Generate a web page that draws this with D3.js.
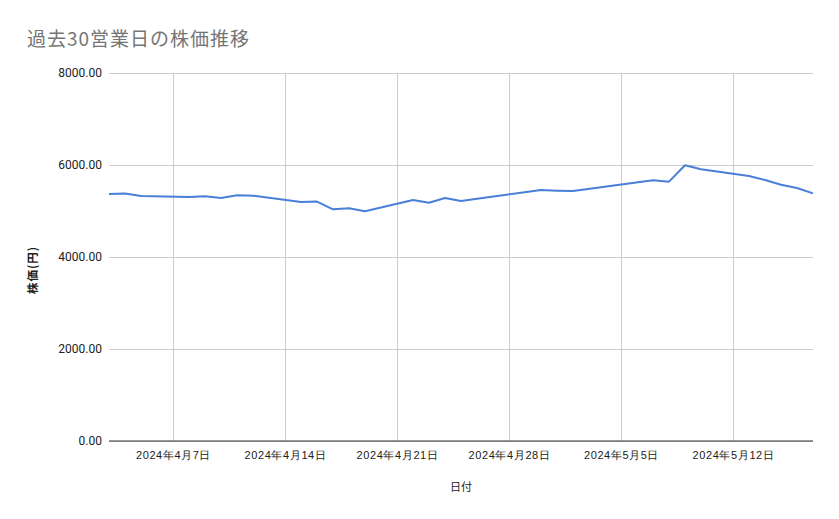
<!DOCTYPE html>
<html><head><meta charset="utf-8">
<script src="https://cdn.jsdelivr.net/npm/d3@7"></script>
<style>
body{margin:0;background:#fff;}
svg{display:block;font-family:"Noto Sans CJK JP","Noto Sans",sans-serif;}
</style></head>
<body>
<svg id="c" width="839" height="519"></svg>
<script>
const dates = ["2024-04-03","2024-04-04","2024-04-05","2024-04-08","2024-04-09","2024-04-10","2024-04-11","2024-04-12",
"2024-04-15","2024-04-16","2024-04-17","2024-04-18","2024-04-19","2024-04-22","2024-04-23","2024-04-24","2024-04-25","2024-04-26",
"2024-04-30","2024-05-01","2024-05-02","2024-05-07","2024-05-08","2024-05-09","2024-05-10",
"2024-05-13","2024-05-14","2024-05-15","2024-05-16","2024-05-17"];
const prices = [5370,5380,5326,5304,5320,5283,5340,5333,
5196,5205,5036,5058,4993,5240,5181,5283,5217,5268,
5456,5442,5435,5667,5638,5993,5906,
5761,5674,5572,5500,5384];
const yTicks = [0,2000,4000,6000,8000];
const xTickDates = ["2024-04-07","2024-04-14","2024-04-21","2024-04-28","2024-05-05","2024-05-12"];

const parse = d3.timeParse("%Y-%m-%d");
const data = dates.map((d,i)=>({date:parse(d), v:prices[i]}));
const svg = d3.select("#c");
const L=109, R=813, T=73, B=441;

const x = d3.scaleTime().domain([parse("2024-04-03"), parse("2024-05-17")]).range([L,R]);
const y = d3.scaleLinear().domain([0,8000]).range([B,T]);

// title
svg.append("text").attr("x",27).attr("y",46).attr("fill","#757575")
  .attr("font-size",19).attr("letter-spacing",1).text("過去30営業日の株価推移");

// horizontal grid
const gy = svg.append("g").attr("transform",`translate(${L},0)`)
  .call(d3.axisLeft(y).tickValues(yTicks).tickSize(-(R-L)).tickPadding(7).tickFormat(d3.format(".2f")));
gy.select(".domain").remove();
gy.selectAll(".tick line").attr("stroke","#cccccc");
gy.selectAll(".tick text").attr("fill","#222").attr("font-size",12).attr("font-family","Roboto,sans-serif");

// vertical grid
const gx = svg.append("g").attr("transform",`translate(0,${B})`)
  .call(d3.axisBottom(x).tickValues(xTickDates.map(parse)).tickSize(-(B-T)).tickPadding(10)
    .tickFormat(d=>`${d.getFullYear()}年${d.getMonth()+1}月${d.getDate()}日`));
gx.select(".domain").remove();
gx.selectAll(".tick line").attr("stroke","#cccccc");
gx.selectAll(".tick text").attr("fill","#222").attr("font-size",11).attr("letter-spacing",0.6);

// baseline
svg.append("line").attr("x1",L).attr("x2",R).attr("y1",y(0)).attr("y2",y(0)).attr("stroke","#333").attr("stroke-width",1);

// line
svg.append("path").datum(data)
  .attr("d", d3.line().x(d=>x(d.date)).y(d=>y(d.v)))
  .attr("fill","none").attr("stroke","#4a7fd8").attr("stroke-width",2).attr("stroke-linejoin","round");

// axis titles
svg.append("text").attr("x",461).attr("y",491).attr("text-anchor","middle").attr("font-size",11).attr("fill","#222").text("日付");
svg.append("text").attr("transform","translate(37,270) rotate(-90)").attr("text-anchor","middle").attr("font-size",11.5).attr("letter-spacing",1).attr("fill","#222").attr("font-weight","bold").text("株価(円)");
</script>
</body></html>
